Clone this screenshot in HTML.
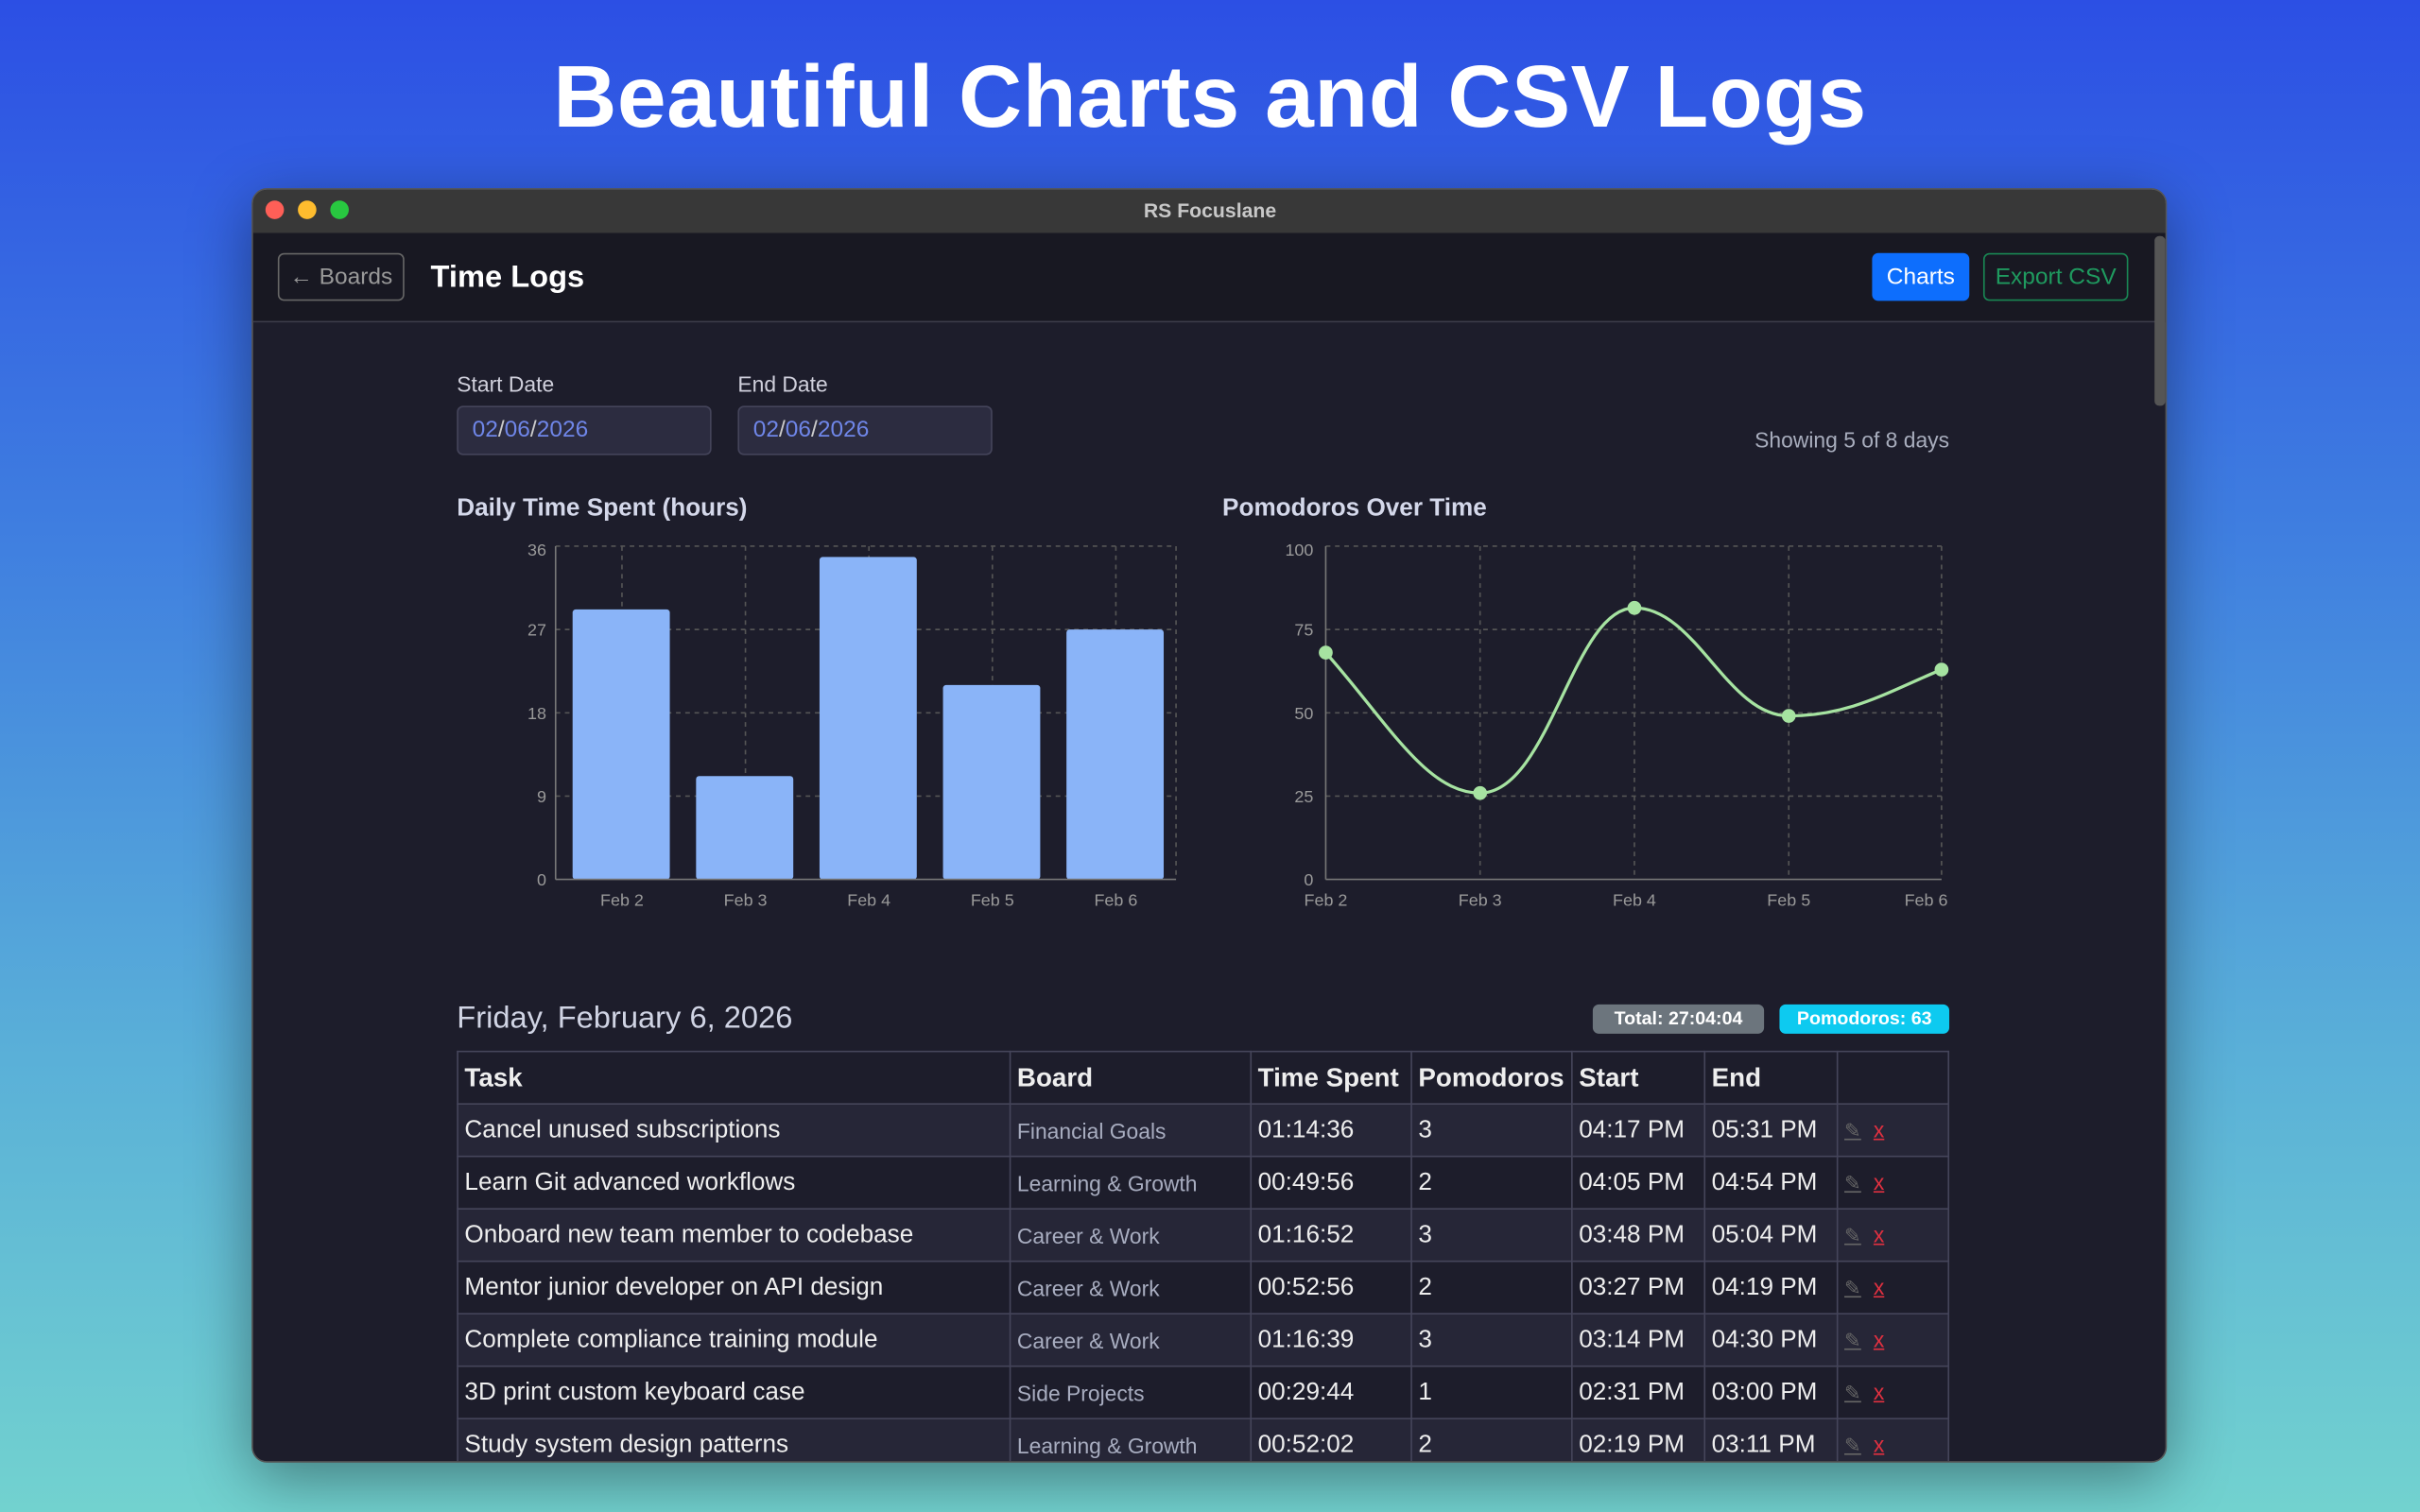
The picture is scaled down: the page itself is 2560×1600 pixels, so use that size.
<!DOCTYPE html>
<html><head><meta charset="utf-8"><style>
*{margin:0;padding:0;box-sizing:border-box}
html,body{width:2560px;height:1600px;overflow:hidden}
body{font-family:"Liberation Sans",sans-serif}
#s{width:1568px;height:980px;transform:scale(1.632653);transform-origin:0 0;position:relative;background:linear-gradient(180deg,#2c4fe4 0%,#3f7ee0 35%,#5ab0d8 70%,#72d2cf 100%)}
.a{position:absolute}
h1{position:absolute;left:0;width:1568px;top:30px;text-align:center;color:#fff;font-size:57px;font-weight:bold;letter-spacing:0.3px}
#w{left:163px;top:122px;width:1241px;height:826px;background:#1d1d2b;border-radius:10px;overflow:hidden;box-shadow:0 10px 40px rgba(0,0,0,.4);border:1px solid #555}
.tb{left:0;top:0;width:1240px;height:28px;background:#383838;color:#c8c8c8;font-size:13px;font-weight:bold;text-align:center;line-height:27px}
.dot{width:12px;height:12px;border-radius:6px;top:7px}
.hd{left:0;top:28px;width:1240px;height:58px;background:#181822;border-bottom:1px solid #3c3c4a}
.btn{border-radius:4px;font-size:15px;line-height:29px;text-align:center}
.lbl{color:#d0d0dc;font-size:14px}
.inp{width:165px;height:32px;background:#2c2c40;border:1px solid #44445a;border-radius:4px;color:#6f86e8;font-size:15px;line-height:30px;padding-left:9px}
.ct{color:#d4d8ea;font-size:16px;font-weight:bold}
table{border-collapse:collapse;position:absolute;left:132px;top:558px;width:967px;color:#eee;font-size:16px}
td,th{border:1px solid #45455a;height:34px;padding:0 4px;text-align:left;white-space:nowrap}
th{font-weight:bold;font-size:17px;background:#1d1d2b}
tr:nth-child(even) td{background:#262637}
tr:nth-child(odd) td{background:#1d1d2b}
td.b{color:#a8adc0;font-size:14px}
.x{color:#e03040;text-decoration:underline;font-size:14px}
.p{color:#666;font-size:13px;text-decoration:underline;margin-right:8px}
</style></head><body><div id="s">
<h1>Beautiful Charts and CSV Logs</h1>
<div id="w" class="a">
<div class="a tb">RS Focuslane</div>
<div class="a dot" style="left:8px;background:#fe5f57"></div>
<div class="a dot" style="left:29px;background:#febc2e"></div>
<div class="a dot" style="left:50px;background:#28c840"></div>
<div class="a hd"></div>
<div class="a btn" style="left:16px;top:41px;width:82px;height:31px;border:1px solid #666;color:#999">← Boards</div>
<div class="a" style="left:115px;top:46px;color:#fff;font-size:20px;font-weight:bold">Time Logs</div>
<div class="a btn" style="left:1049px;top:41px;width:63px;height:31px;background:#0d6efd;color:#fff;line-height:31px">Charts</div>
<div class="a btn" style="left:1121px;top:41px;width:94px;height:31px;border:1px solid #198754;color:#1f9a5f">Export CSV</div>
<div class="a" style="left:1232px;top:30px;width:7px;height:110px;background:#555;border-radius:3px"></div>
<div class="a lbl" style="left:132px;top:118px">Start Date</div>
<div class="a lbl" style="left:314px;top:118px">End Date</div>
<div class="a inp" style="left:132px;top:140px">02<span style="color:#ccc">/</span>06<span style="color:#ccc">/</span>2026</div>
<div class="a inp" style="left:314px;top:140px">02<span style="color:#ccc">/</span>06<span style="color:#ccc">/</span>2026</div>
<div class="a" style="left:900px;width:199px;text-align:right;top:154px;color:#a8adbd;font-size:14px">Showing 5 of 8 days</div>
<div class="a ct" style="left:132px;top:198px">Daily Time Spent (hours)</div>
<div class="a ct" style="left:628px;top:198px">Pomodoros Over Time</div>
<svg class="a" style="left:0;top:0" width="1240" height="480" font-family="Liberation Sans" font-size="11" fill="#999">
<g stroke="#555" stroke-dasharray="3,3" stroke-width="1">
<line x1="196" y1="231" x2="598" y2="231"/><line x1="196" y1="285" x2="598" y2="285"/><line x1="196" y1="339" x2="598" y2="339"/><line x1="196" y1="393" x2="598" y2="393"/>
<line x1="239" y1="231" x2="239" y2="447"/><line x1="319" y1="231" x2="319" y2="447"/><line x1="399" y1="231" x2="399" y2="447"/><line x1="479" y1="231" x2="479" y2="447"/><line x1="559" y1="231" x2="559" y2="447"/><line x1="598" y1="231" x2="598" y2="447"/>
<line x1="695" y1="231" x2="1094" y2="231"/><line x1="695" y1="285" x2="1094" y2="285"/><line x1="695" y1="339" x2="1094" y2="339"/><line x1="695" y1="393" x2="1094" y2="393"/>
<line x1="795" y1="231" x2="795" y2="447"/><line x1="895" y1="231" x2="895" y2="447"/><line x1="995" y1="231" x2="995" y2="447"/><line x1="1094" y1="231" x2="1094" y2="447"/>
</g>
<g fill="#8ab4f8"><rect x="207" y="272" width="63" height="175" rx="2"/><rect x="287" y="380" width="63" height="67" rx="2"/><rect x="367" y="238" width="63" height="209" rx="2"/><rect x="447" y="321" width="63" height="126" rx="2"/><rect x="527" y="285" width="63" height="162" rx="2"/></g>
<g stroke="#777"><line x1="196" y1="231" x2="196" y2="447"/><line x1="196" y1="447" x2="598" y2="447"/><line x1="695" y1="231" x2="695" y2="447"/><line x1="695" y1="447" x2="1094" y2="447"/></g>
<g text-anchor="end"><text x="190" y="237">36</text><text x="190" y="289">27</text><text x="190" y="343">18</text><text x="190" y="397">9</text><text x="190" y="451">0</text>
<text x="687" y="237">100</text><text x="687" y="289">75</text><text x="687" y="343">50</text><text x="687" y="397">25</text><text x="687" y="451">0</text></g>
<g text-anchor="middle"><text x="239" y="464">Feb 2</text><text x="319" y="464">Feb 3</text><text x="399" y="464">Feb 4</text><text x="479" y="464">Feb 5</text><text x="559" y="464">Feb 6</text>
<text x="695" y="464">Feb 2</text><text x="795" y="464">Feb 3</text><text x="895" y="464">Feb 4</text><text x="995" y="464">Feb 5</text><text x="1084" y="464">Feb 6</text></g>
<path d="M695,300 C735,345 760,391 795,391 C840,391 855,271 895,271 C935,271 955,341 995,341 C1035,341 1060,325 1094,311" fill="none" stroke="#a6e3a1" stroke-width="2"/>
<g fill="#a6e3a1"><circle cx="695" cy="300" r="4.5"/><circle cx="795" cy="391" r="4.5"/><circle cx="895" cy="271" r="4.5"/><circle cx="995" cy="341" r="4.5"/><circle cx="1094" cy="311" r="4.5"/></g>
</svg>
<div class="a" style="left:132px;top:526px;color:#d0d4e4;font-size:20px">Friday, February 6, 2026</div>
<div class="a" style="left:868px;top:528px;width:111px;height:19px;background:#6c757d;border-radius:4px;color:#fff;font-size:12px;font-weight:bold;text-align:center;line-height:19px">Total: 27:04:04</div>
<div class="a" style="left:989px;top:528px;width:110px;height:19px;background:#0dcaf0;border-radius:4px;color:#fff;font-size:12px;font-weight:bold;text-align:center;line-height:19px">Pomodoros: 63</div>
<table>
<tr><th style="width:358px">Task</th><th style="width:156px">Board</th><th style="width:104px">Time Spent</th><th style="width:104px">Pomodoros</th><th style="width:86px">Start</th><th style="width:86px">End</th><th></th></tr>
<tr><td>Cancel unused subscriptions</td><td class="b">Financial Goals</td><td>01:14:36</td><td>3</td><td>04:17 PM</td><td>05:31 PM</td><td><span class="p">✎</span><span class="x">x</span></td></tr>
<tr><td>Learn Git advanced workflows</td><td class="b">Learning &amp; Growth</td><td>00:49:56</td><td>2</td><td>04:05 PM</td><td>04:54 PM</td><td><span class="p">✎</span><span class="x">x</span></td></tr>
<tr><td>Onboard new team member to codebase</td><td class="b">Career &amp; Work</td><td>01:16:52</td><td>3</td><td>03:48 PM</td><td>05:04 PM</td><td><span class="p">✎</span><span class="x">x</span></td></tr>
<tr><td>Mentor junior developer on API design</td><td class="b">Career &amp; Work</td><td>00:52:56</td><td>2</td><td>03:27 PM</td><td>04:19 PM</td><td><span class="p">✎</span><span class="x">x</span></td></tr>
<tr><td>Complete compliance training module</td><td class="b">Career &amp; Work</td><td>01:16:39</td><td>3</td><td>03:14 PM</td><td>04:30 PM</td><td><span class="p">✎</span><span class="x">x</span></td></tr>
<tr><td>3D print custom keyboard case</td><td class="b">Side Projects</td><td>00:29:44</td><td>1</td><td>02:31 PM</td><td>03:00 PM</td><td><span class="p">✎</span><span class="x">x</span></td></tr>
<tr><td>Study system design patterns</td><td class="b">Learning &amp; Growth</td><td>00:52:02</td><td>2</td><td>02:19 PM</td><td>03:11 PM</td><td><span class="p">✎</span><span class="x">x</span></td></tr>
</table>
</div>
</div></body></html>
